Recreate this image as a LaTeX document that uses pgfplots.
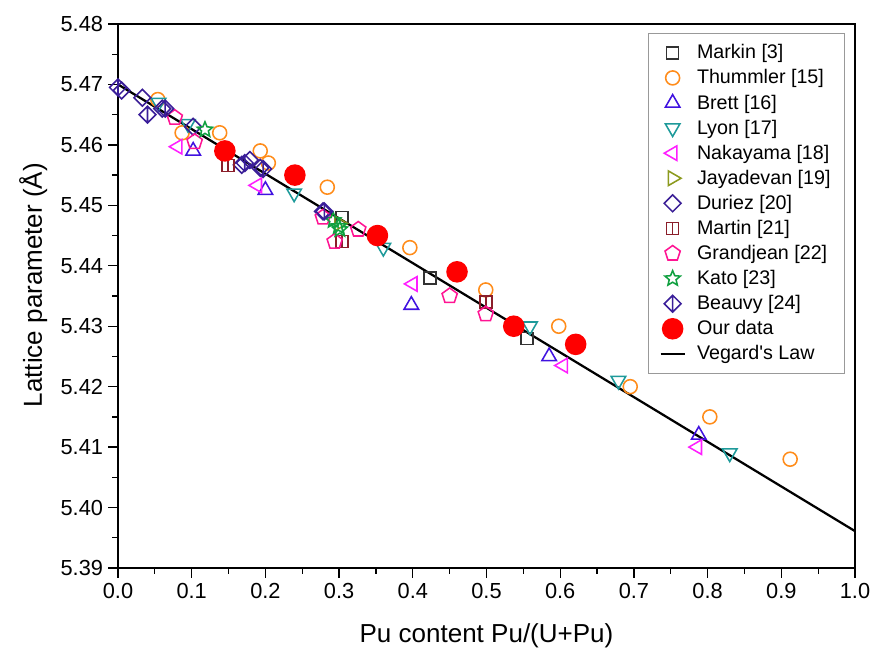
\documentclass[border=0pt]{standalone}
\usepackage{fontspec}
\setmainfont{Liberation Sans}
\usepackage{pgfplots}
\pgfplotsset{compat=1.18}
\definecolor{markin}{HTML}{333333}
\definecolor{thummler}{HTML}{FF8C1A}
\definecolor{brett}{HTML}{4012E0}
\definecolor{lyon}{HTML}{1E9A9A}
\definecolor{nakayama}{HTML}{FF1EFF}
\definecolor{jayadevan}{HTML}{8C9A1E}
\definecolor{duriez}{HTML}{3A1E96}
\definecolor{martin}{HTML}{8B1E2A}
\definecolor{grandjean}{HTML}{FF1493}
\definecolor{kato}{HTML}{10A040}
\definecolor{beauvy}{HTML}{3A1E9A}

% square with a vertical bar
\pgfdeclareplotmark{sqbar}{%
  \pgfpathrectangle{\pgfpoint{-\pgfplotmarksize}{-\pgfplotmarksize}}{\pgfpoint{2\pgfplotmarksize}{2\pgfplotmarksize}}%
  \pgfpathmoveto{\pgfpoint{0pt}{-\pgfplotmarksize}}\pgfpathlineto{\pgfpoint{0pt}{\pgfplotmarksize}}%
  \pgfusepathqstroke}
% square diamond
\pgfdeclareplotmark{dm}{%
  \pgfpathmoveto{\pgfpoint{0pt}{\pgfplotmarksize}}%
  \pgfpathlineto{\pgfpoint{\pgfplotmarksize}{0pt}}%
  \pgfpathlineto{\pgfpoint{0pt}{-\pgfplotmarksize}}%
  \pgfpathlineto{\pgfpoint{-\pgfplotmarksize}{0pt}}%
  \pgfpathclose\pgfusepathqstroke}
% diamond with a vertical bar
\pgfdeclareplotmark{dmbar}{%
  \pgfpathmoveto{\pgfpoint{0pt}{\pgfplotmarksize}}%
  \pgfpathlineto{\pgfpoint{\pgfplotmarksize}{0pt}}%
  \pgfpathlineto{\pgfpoint{0pt}{-\pgfplotmarksize}}%
  \pgfpathlineto{\pgfpoint{-\pgfplotmarksize}{0pt}}%
  \pgfpathclose
  \pgfpathmoveto{\pgfpoint{0pt}{\pgfplotmarksize}}\pgfpathlineto{\pgfpoint{0pt}{-\pgfplotmarksize}}%
  \pgfusepathqstroke}
% pentagon
\pgfdeclareplotmark{pent}{%
  \pgfpathmoveto{\pgfpointpolar{90}{\pgfplotmarksize}}%
  \pgfpathlineto{\pgfpointpolar{162}{\pgfplotmarksize}}%
  \pgfpathlineto{\pgfpointpolar{234}{\pgfplotmarksize}}%
  \pgfpathlineto{\pgfpointpolar{306}{\pgfplotmarksize}}%
  \pgfpathlineto{\pgfpointpolar{18}{\pgfplotmarksize}}%
  \pgfpathclose\pgfusepathqstroke}
% five-point star outline
\pgfdeclareplotmark{star5}{%
  \pgfpathmoveto{\pgfpointpolar{90}{\pgfplotmarksize}}%
  \pgfpathlineto{\pgfpointpolar{126}{0.45\pgfplotmarksize}}%
  \pgfpathlineto{\pgfpointpolar{162}{\pgfplotmarksize}}%
  \pgfpathlineto{\pgfpointpolar{198}{0.45\pgfplotmarksize}}%
  \pgfpathlineto{\pgfpointpolar{234}{\pgfplotmarksize}}%
  \pgfpathlineto{\pgfpointpolar{270}{0.45\pgfplotmarksize}}%
  \pgfpathlineto{\pgfpointpolar{306}{\pgfplotmarksize}}%
  \pgfpathlineto{\pgfpointpolar{342}{0.45\pgfplotmarksize}}%
  \pgfpathlineto{\pgfpointpolar{18}{\pgfplotmarksize}}%
  \pgfpathlineto{\pgfpointpolar{54}{0.45\pgfplotmarksize}}%
  \pgfpathclose\pgfusepathqstroke}

\begin{document}
\begin{tikzpicture}
\begin{axis}[name=ax,
  scale only axis, width=184.25mm, height=136mm,
  xmin=0, xmax=1, ymin=5.39, ymax=5.48,
  xtick={0,0.1,...,1.0}, ytick={5.39,5.40,...,5.48},
  minor x tick num=1, minor y tick num=1,
  xtick pos=bottom, ytick pos=left, tick align=outside,
  major tick length=2.5mm, minor tick length=1.4mm,
  every tick/.style={black, line width=0.9pt},
  axis line style={line width=1pt},
  xticklabel style={/pgf/number format/.cd, fixed, fixed zerofill, precision=1},
  yticklabel style={/pgf/number format/.cd, fixed, fixed zerofill, precision=2},
  /pgf/number format/assume math mode=true,
  tick label style={font=\fontsize{15.5}{18}\selectfont},
  xlabel={Pu content Pu/(U+Pu)}, ylabel={Lattice parameter (Å)},
  every axis x label/.style={at={(axis description cs:0.5,-0.125)}, anchor=center,
    font=\fontsize{18.5}{22}\selectfont},
  every axis y label/.style={at={(axis description cs:-0.115,0.52)}, rotate=90, anchor=center,
    font=\fontsize{18.5}{22}\selectfont},
  legend style={at={(rel axis cs:0.9864,0.9835)}, anchor=north east,
    draw=gray!80, line width=0.6pt, font=\fontsize{14}{16.5}\selectfont,
    row sep=2.2pt, inner xsep=8pt, inner ysep=6pt,
    /tikz/every odd column/.append style={column sep=6pt}},
  legend cell align=left,
  every axis plot/.append style={line width=1.1pt},
]
\addplot[only marks, mark=square, mark size=1.5mm, markin] coordinates {
 (0.304,5.448) (0.423,5.438) (0.555,5.428)};
\addlegendentry{Markin [3]}
\addplot[only marks, mark=o, mark size=1.75mm, thummler] coordinates {
 (0.054,5.4675) (0.087,5.462) (0.138,5.462) (0.193,5.459) (0.204,5.457)
 (0.284,5.453) (0.396,5.443) (0.499,5.436) (0.598,5.430) (0.695,5.420)
 (0.803,5.415) (0.912,5.408)};
\addlegendentry{Thummler [15]}
\addplot[only marks, mark=triangle, mark size=2.1mm, brett] coordinates {
 (0.102,5.459) (0.200,5.4525) (0.398,5.4335) (0.585,5.425) (0.788,5.412)};
\addlegendentry{Brett [16]}
\addplot[only marks, mark=triangle, mark size=2.1mm, mark options={rotate=180}, lyon] coordinates {
 (0.055,5.467) (0.095,5.4635) (0.239,5.452) (0.360,5.443) (0.559,5.430)
 (0.679,5.421) (0.830,5.409)};
\addlegendentry{Lyon [17]}
\addplot[only marks, mark=triangle, mark size=2.1mm, mark options={rotate=90}, nakayama] coordinates {
 (0.081,5.4597) (0.189,5.4533) (0.400,5.437) (0.604,5.4235) (0.786,5.410)};
\addlegendentry{Nakayama [18]}
\addplot[only marks, mark=triangle, mark size=2.1mm, mark options={rotate=-90}, jayadevan] coordinates {
 (0.300,5.447)};
\addlegendentry{Jayadevan [19]}
\addplot[only marks, mark=dm, mark size=2.1mm, duriez] coordinates {
 (0.005,5.469) (0.033,5.4678) (0.060,5.466) (0.102,5.463) (0.168,5.4567)
 (0.179,5.4575) (0.193,5.4562) (0.278,5.449)};
\addlegendentry{Duriez [20]}
\addplot[only marks, mark=sqbar, mark size=1.5mm, martin] coordinates {
 (0.149,5.4566) (0.304,5.444) (0.499,5.434)};
\addlegendentry{Martin [21]}
\addplot[only marks, mark=pent, mark size=2mm, grandjean] coordinates {
 (0.077,5.4645) (0.104,5.4605) (0.278,5.448) (0.294,5.444) (0.326,5.446)
 (0.450,5.435) (0.499,5.432)};
\addlegendentry{Grandjean [22]}
\addplot[only marks, mark=star5, mark size=2mm, kato] coordinates {
 (0.118,5.4625) (0.292,5.4475) (0.299,5.4465) (0.301,5.446)};
\addlegendentry{Kato [23]}
\addplot[only marks, mark=dmbar, mark size=2.1mm, beauvy] coordinates {
 (0.000,5.4695) (0.040,5.465) (0.064,5.466) (0.172,5.457) (0.197,5.456)
 (0.280,5.449)};
\addlegendentry{Beauvy [24]}
\addplot[only marks, mark=*, mark size=2.5mm, draw=red, fill=red] coordinates {
 (0.145,5.459) (0.240,5.455) (0.352,5.445) (0.460,5.439) (0.537,5.430)
 (0.621,5.427)};
\addlegendentry{Our data}
\addplot[black, line width=1.6pt] coordinates {(0,5.4700) (1,5.3961)};
\addlegendentry{Vegard\textquotesingle s Law}
\end{axis}
\pgfresetboundingbox
\path[use as bounding box] ([xshift=-29.5mm,yshift=-21.75mm]ax.south west) rectangle ([xshift=4mm,yshift=6mm]ax.north east);
\end{tikzpicture}
\end{document}
